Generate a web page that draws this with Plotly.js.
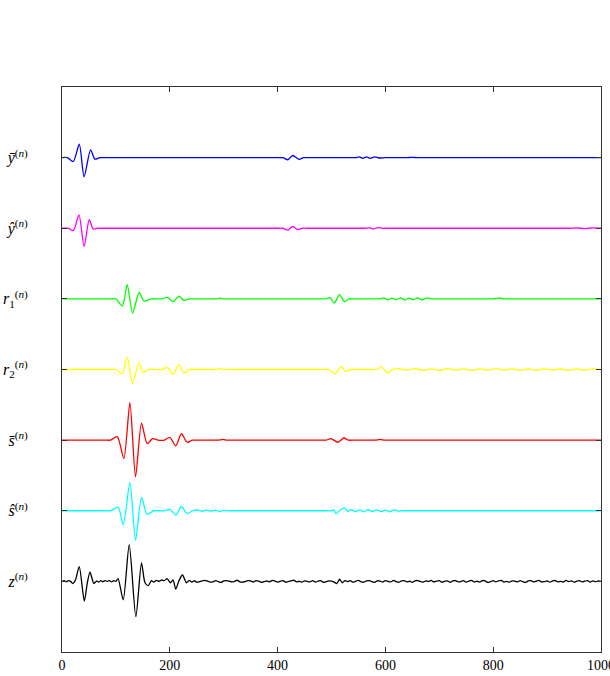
<!DOCTYPE html>
<html>
<head>
<meta charset="utf-8">
<script src="https://cdn.plot.ly/plotly-3.0.1.min.js"></script>
<style>html,body{margin:0;padding:0;background:#fff;}#chart{width:610px;height:676px;}</style>
</head>
<body>
<div id="chart"></div>
<script>
// tick positions (stack order, bottom to top) and labels
const tickVals = [1, 2, 3, 4, 5, 6, 7];
const tickLabels = [
  '<i>z</i><sup>(<i>n</i>)</sup>',
  '<i>ŝ</i><sup>(<i>n</i>)</sup>',
  '<i>s̄</i><sup>(<i>n</i>)</sup>',
  '<i>r</i><sub>2</sub><sup>(<i>n</i>)</sup>',
  '<i>r</i><sub>1</sub><sup>(<i>n</i>)</sup>',
  '<i>ŷ</i><sup>(<i>n</i>)</sup>',
  '<i>ȳ</i><sup>(<i>n</i>)</sup>'
];
const xTicks = [0, 200, 400, 600, 800, 1000];

// y-bar (blue)
const ybarX = [0, 10, 21, 32, 41, 53, 61, 70, 80, 400, 410, 419, 428, 440, 448, 458, 535, 545, 552, 558, 565, 572, 580, 588, 600, 610, 640, 650, 660, 700, 1000];
const ybarY = [0, 0, -0.055, 0.19, -0.27, 0.11, -0.02, 0, 0, 0, 0, -0.03, 0.03, -0.025, 0, 0, 0, 0, 0.01, -0.01, 0.01, -0.01, 0.01, -0.005, 0, 0, 0, 0.004, 0, 0, 0];
// y-hat (magenta)
const yhatX = [0, 12, 21, 31.5, 41, 50.5, 58, 66, 76, 400, 410, 419, 428, 437, 446, 456, 550, 560, 570, 578, 586, 594, 604, 930, 940, 955, 970, 985, 1000];
const yhatY = [0, 0, -0.035, 0.19, -0.26, 0.12, -0.01, 0, 0, 0, 0, -0.025, 0.025, -0.02, 0, 0, 0, 0, 0.005, -0.01, 0.01, 0, 0, 0, 0, 0.005, -0.005, 0.005, 0];
// r1 (green)
const r1X = [0, 90, 100, 112, 121, 131, 143, 152, 165, 175, 185, 196, 206, 217, 226, 236, 246, 275, 285, 293, 300, 310, 480, 490, 497, 505, 515, 524, 532, 542, 580, 590, 597, 604, 612, 620, 628, 636, 644, 652, 660, 668, 676, 690, 700, 790, 800, 810, 820, 830, 1000];
const r1Y = [0, 0, 0, -0.1, 0.2, -0.2, 0.09, -0.03, 0, 0, 0, 0.02, -0.04, 0.04, -0.02, 0, 0, 0, 0, 0.01, 0, 0, 0, 0, 0.02, -0.06, 0.06, -0.04, 0, 0, 0, 0, 0.015, -0.015, 0.012, -0.012, 0.015, -0.015, 0.012, -0.012, 0.015, -0.015, 0.01, 0, 0, 0, 0, 0.012, 0, 0, 0];
// r2 (yellow)
const r2X = [0, 90, 100, 111.7, 121, 131, 142.6, 150.6, 160, 170, 185, 195.7, 206, 216.7, 226, 236, 246, 275, 285, 292.6, 300, 310, 485, 495, 507, 518, 527, 535, 545, 575, 585, 592, 604, 613, 625, 640, 655, 670, 685, 700, 715, 730, 745, 760, 775, 790, 805, 820, 835, 850, 865, 880, 895, 910, 925, 940, 955, 970, 985, 1000];
const r2Y = [0, 0, 0, -0.06, 0.18, -0.2, 0.095, -0.04, 0, 0, 0, 0.025, -0.07, 0.07, -0.05, 0, 0, 0, 0, 0.012, 0, 0, 0, 0, -0.06, 0.04, -0.03, 0, 0, 0, 0, 0.04, -0.05, 0, 0.012, -0.01, 0.012, -0.012, 0.01, -0.012, 0.012, -0.01, 0.01, -0.012, 0.01, -0.01, 0.012, -0.01, 0.01, -0.01, 0.008, -0.01, 0.01, -0.008, 0.01, -0.01, 0.008, -0.008, 0.01, 0];
// s-bar (red)
const sbarX = [0, 80, 90, 102.5, 114.8, 126, 136.4, 147.5, 158, 168, 178, 190, 200, 211, 221.6, 232, 242, 252, 280, 290, 298.8, 306, 316, 480, 490, 499, 512, 523, 531, 541, 575, 582, 590, 598, 606, 1000];
const sbarY = [0, 0, 0, 0.05, -0.26, 0.53, -0.52, 0.24, -0.05, 0.02, 0, 0, 0.04, -0.08, 0.09, -0.03, 0, 0, 0, 0, 0.01, 0, 0, 0, 0, 0.02, -0.03, 0.03, 0, 0, 0, 0, 0.01, 0, 0, 0];
// s-hat (cyan)
const shatX = [0, 80, 90, 104, 113.6, 126, 136.4, 147.5, 158, 170, 180, 190, 200, 211, 221.6, 232, 242, 252, 260, 268, 276, 284, 292, 300, 310, 320, 490, 500, 504, 508.6, 516, 524, 530, 536, 544, 552, 560, 568, 576, 584, 592, 600, 608, 616, 624, 632, 640, 1000];
const shatY = [0, 0, 0, 0.05, -0.2, 0.4, -0.42, 0.19, -0.05, 0, 0, 0, 0.02, -0.06, 0.06, -0.04, 0, 0.01, -0.008, 0.01, -0.006, 0.008, -0.008, 0.005, 0, 0, 0, 0, 0.015, -0.04, 0.01, 0.04, -0.01, 0.015, -0.012, 0.012, -0.015, 0.015, -0.01, 0.012, -0.012, 0.01, -0.015, 0.012, -0.005, 0, 0, 0];
// z (black, noisy)
const zX = [0, 4, 8, 12, 16, 20, 25, 32, 41.4, 47, 52, 59, 64, 68, 72, 76, 80, 84, 88, 92, 96, 100, 104, 113.6, 124.7, 137, 147.5, 154, 160, 166, 170, 175, 180, 185, 190, 195, 201, 206, 211, 217, 223.5, 231, 236, 241, 246,
  250, 255, 260, 265, 270, 275, 280, 285, 290, 295, 300, 305, 310, 315, 320, 325, 330, 335, 340, 345, 350, 355, 360, 365, 370, 375, 380, 385, 390, 395, 400, 405, 410, 415, 420, 425, 430, 435, 440, 445, 450, 455, 460, 465, 470, 475, 480, 485, 490, 495, 500, 505, 510, 515, 520, 525, 530, 535, 540, 545, 550, 555, 560, 565, 570, 575, 580, 585, 590, 595, 600, 605, 610, 615, 620, 625, 630, 635, 640, 645, 650, 655, 660, 665, 670, 675, 680, 685, 690, 695, 700, 705, 710, 715, 720, 725, 730, 735, 740, 745, 750, 755, 760, 765, 770, 775, 780, 785, 790, 795, 800, 805, 810, 815, 820, 825, 830, 835, 840, 845, 850, 855, 860, 865, 870, 875, 880, 885, 890, 895, 900, 905, 910, 915, 920, 925, 930, 935, 940, 945, 950, 955, 960, 965, 970, 975, 980, 985, 990, 995, 1000];
const zY = [0, 0.01, -0.005, 0.012, 0, -0.03, 0.02, 0.21, -0.28, -0.02, 0.13, -0.03, 0.005, -0.01, 0.01, -0.005, 0.012, 0, 0.01, -0.008, 0.01, 0, 0.04, -0.26, 0.52, -0.5, 0.26, -0.02, -0.06, 0.01, -0.01, 0.015, 0, 0.02, 0.01, 0.04, -0.02, 0.02, -0.11, 0.01, 0.09, -0.02, 0.015, -0.01, 0.01,
  -0.012, -0.004, 0.008, 0.014, 0.002, -0.01, -0.006, 0.01, -0.002, -0.014, 0.006, 0.012, 0.004, -0.008, 0.0, 0.016, -0.006, -0.012, -0.002, 0.01,
  0.006, -0.01, 0.012, 0.002, -0.014, -0.004, 0.008, -0.006, 0.014, 0.004, -0.01, 0.002, 0.012, -0.012, -0.002, 0.006, 0.016, -0.008, 0.002, -0.012,
  0.008, 0.0, -0.006, 0.012, -0.01, 0.004, 0.01, -0.014, -0.004, 0.008, 0.002, -0.01, -0.03, 0.03, -0.02, 0.012, -0.004, 0.01, -0.012, 0.002,
  0.014, -0.006, -0.012, 0.006, 0.01, -0.002, -0.014, 0.008, 0.004, -0.01, 0.012, 0.0, -0.008, 0.014, -0.004, -0.012, 0.006, 0.01, -0.006, 0.002,
  -0.014, 0.008, 0.012, -0.004, -0.01, 0.006, -0.002, 0.014, -0.008, 0.004, 0.01, -0.012, 0.0, 0.008, -0.014, 0.006, 0.012, -0.006, -0.002, 0.01,
  -0.012, 0.004, 0.014, -0.008, 0.002, -0.01, 0.012, 0.006, -0.014, -0.002, 0.01, -0.006, 0.008, 0.014, -0.01, 0.0, -0.012, 0.008, 0.004, -0.008,
  0.012, -0.004, -0.014, 0.006, 0.01, -0.008, 0.002, 0.014, -0.01, -0.002, 0.008, -0.012, 0.006, 0.012, -0.006, 0.0, -0.01, 0.014, -0.004, 0.008,
  -0.012, 0.004, 0.01, -0.008, 0.002, 0.012, -0.01, 0.006, -0.004, 0.008, 0];

const series = [
  {x: zX, y: zY, off: 1, color: '#000000'},
  {x: shatX, y: shatY, off: 2, color: '#00ffff'},
  {x: sbarX, y: sbarY, off: 3, color: '#ff0000'},
  {x: r2X, y: r2Y, off: 4, color: '#ffff00'},
  {x: r1X, y: r1Y, off: 5, color: '#00ff00'},
  {x: yhatX, y: yhatY, off: 6, color: '#ff00ff'},
  {x: ybarX, y: ybarY, off: 7, color: '#0000ff'}
];

const traces = series.map(s => ({
  type: 'scatter', mode: 'lines',
  x: s.x, y: s.y.map(v => v + s.off),
  line: {color: s.color, width: 1.3, shape: 'spline', smoothing: 0.7},
  hoverinfo: 'skip', showlegend: false
}));

const fam = 'Times New Roman, Liberation Serif, serif';
const xfont = {family: fam, size: 14, color: '#000'};
const yfont = {family: fam, size: 16, color: '#000'};
const layout = {
  width: 610, height: 676,
  margin: {l: 62, r: 9, t: 87, b: 24},
  paper_bgcolor: '#fff', plot_bgcolor: '#fff',
  font: xfont,
  showlegend: false,
  xaxis: {
    range: [0, 1000], tickvals: xTicks, ticktext: xTicks.map(String),
    ticks: 'inside', ticklen: 5, tickcolor: '#333', tickwidth: 1,
    showline: true, linecolor: '#333', linewidth: 1, mirror: 'ticks',
    showgrid: false, zeroline: false, tickfont: xfont, ticklabeloverflow: 'allow'
  },
  yaxis: {
    range: [0, 8], tickvals: tickVals, ticktext: tickLabels,
    ticks: 'inside', ticklen: 5, tickcolor: '#333', tickwidth: 1,
    showline: true, linecolor: '#333', linewidth: 1, mirror: 'ticks',
    showgrid: false, zeroline: false, tickfont: yfont, ticklabelstandoff: 30
  }
};
Plotly.newPlot('chart', traces, layout, {staticPlot: true, displayModeBar: false});
</script>
</body>
</html>
